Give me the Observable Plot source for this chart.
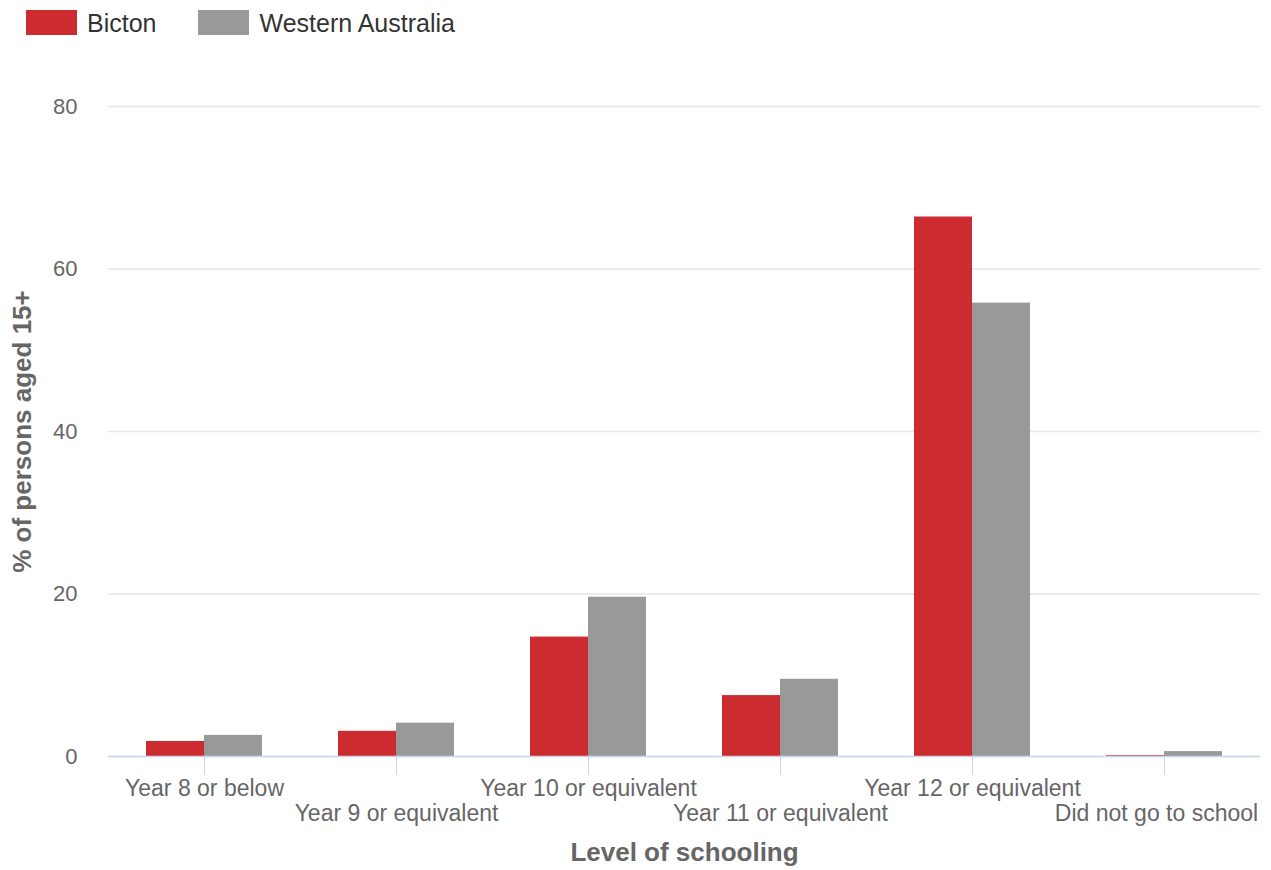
<!DOCTYPE html>
<html>
<head>
<meta charset="utf-8">
<script src="https://cdn.jsdelivr.net/npm/d3@7"></script>
<script src="https://cdn.jsdelivr.net/npm/@observablehq/plot@0.6"></script>
<style>
  html, body { margin: 0; padding: 0; background: #fff; }
  #wrap { position: relative; width: 1271px; height: 870px; font-family: "Liberation Sans", Arial, sans-serif; }
  #legend { position: absolute; left: 26px; top: 10px; display: flex; align-items: center; font-size: 25px; color: #333; line-height: 25px; }
  .item { display: flex; align-items: center; }
  .item + .item { margin-left: 42px; }
  .item span { position: relative; top: 1px; }
  .sw { width: 51px; height: 25px; margin-right: 10px; }
  #chart { position: absolute; left: 0; top: 0; }
  g[aria-label="fx-axis label"] text, g[aria-label="y-axis label"] text { font-weight: bold; font-size: 26px; }
</style>
</head>
<body>
<div id="wrap">
  <div id="chart"></div>
  <div id="legend"></div>
</div>
<script>
const categories = ["Year 8 or below", "Year 9 or equivalent", "Year 10 or equivalent", "Year 11 or equivalent", "Year 12 or equivalent", "Did not go to school"];
const series = ["Bicton", "Western Australia"];
const bicton = [1.85, 3.1, 14.7, 7.5, 66.4, 0.1];
const westernAustralia = [2.6, 4.1, 19.6, 9.5, 55.8, 0.6];
const yTicks = [0, 20, 40, 60, 80];
const colors = ["#cc2c30", "#999999"];

const data = categories.flatMap((c, i) => [
  {category: c, series: series[0], value: bicton[i]},
  {category: c, series: series[1], value: westernAustralia[i]}
]);

const legend = document.getElementById("legend");
series.forEach((s, i) => {
  const it = document.createElement("div");
  it.className = "item";
  it.innerHTML = `<div class="sw" style="background:${colors[i]}"></div><span>${s}</span>`;
  legend.appendChild(it);
});

const idx = (d) => categories.indexOf(d);
const last = categories.length - 1;

const chart = Plot.plot({
  width: 1271,
  height: 870,
  marginTop: 106,
  marginBottom: 114,
  marginLeft: 108,
  marginRight: 11,
  style: {fontFamily: "Liberation Sans, Arial, sans-serif", color: "#666", background: "transparent"},
  fx: {domain: categories, padding: 0},
  x: {domain: series, paddingInner: 0, paddingOuter: 0.64, axis: null},
  y: {domain: [0, 80]},
  color: {domain: series, range: colors},
  marks: [
    Plot.gridY(yTicks, {stroke: "#e6e6e6", strokeOpacity: 1, strokeWidth: 1.5}),
    Plot.barY(data, {fx: "category", x: "series", y: "value", fill: "series"}),
    Plot.ruleY([0], {stroke: "#ccd6eb", strokeWidth: 1.5}),
    Plot.axisY(yTicks, {tickSize: 0, tickPadding: 31, fontSize: 22, fill: "#666", label: "% of persons aged 15+", labelArrow: "none", labelAnchor: "center", labelOffset: 96}),
    Plot.axisFx({anchor: "bottom", tickSize: 19, stroke: "#ccd6eb", strokeOpacity: 1, tickFormat: () => "", label: "Level of schooling", labelArrow: "none", labelAnchor: "center", labelOffset: 104}),
    Plot.axisFx({anchor: "bottom", tickSize: 0, tickPadding: 23, fontSize: 23, fill: "#666", tickFormat: (d) => idx(d) % 2 === 0 ? d : "", label: null}),
    Plot.axisFx({anchor: "bottom", tickSize: 0, tickPadding: 48, fontSize: 23, fill: "#666", tickFormat: (d) => idx(d) % 2 === 1 && idx(d) !== last ? d : "", label: null}),
    Plot.axisFx({anchor: "bottom", tickSize: 0, tickPadding: 48, fontSize: 23, fill: "#666", dx: -8, tickFormat: (d) => idx(d) === last ? d : "", label: null})
  ]
});
document.getElementById("chart").appendChild(chart);
</script>
</body>
</html>
